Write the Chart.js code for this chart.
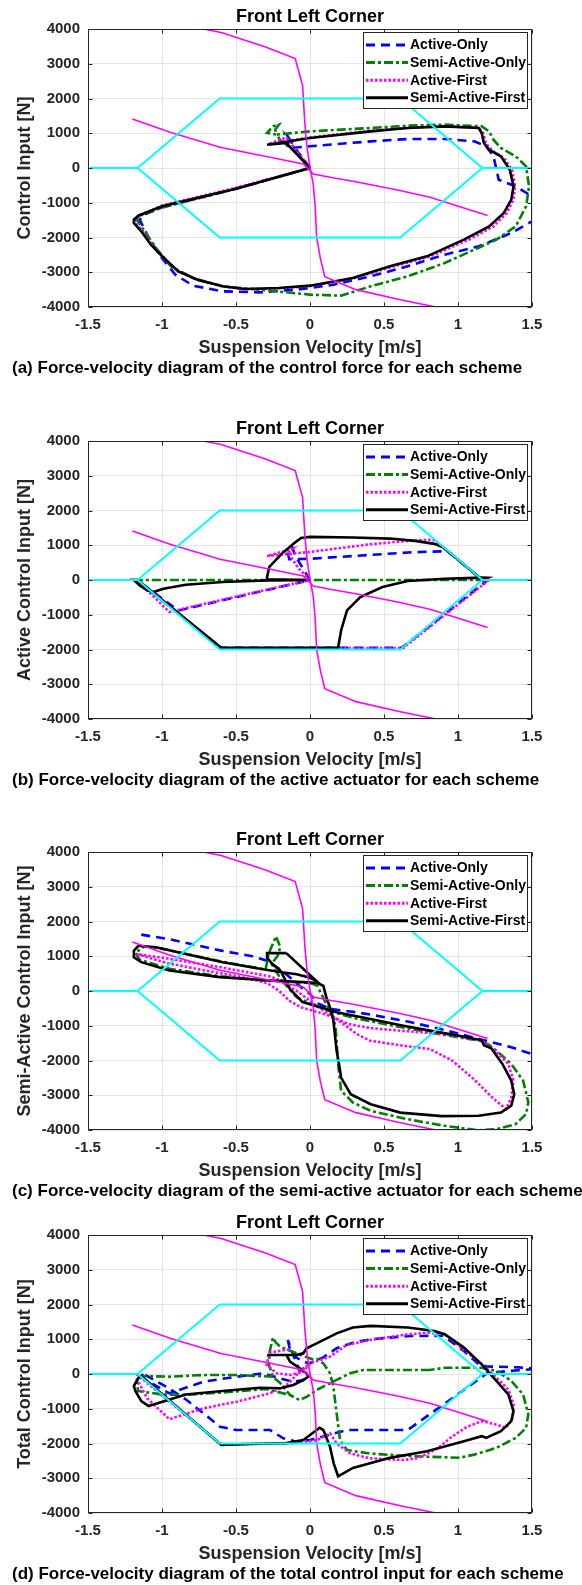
<!DOCTYPE html>
<html>
<head>
<meta charset="utf-8">
<script src="https://cdn.jsdelivr.net/npm/chart.js@4.4.0/dist/chart.umd.min.js"></script>
<style>
  html, body { margin: 0; padding: 0; background: #fff; }
  body { width: 582px; height: 1585px; position: relative; overflow: hidden; font-family: "Liberation Sans", Arial, sans-serif; }
  .panel { position: absolute; left: 0; width: 582px; height: 359px; }
  .caption { position: absolute; left: 12px; font-weight: bold; font-size: 17px; line-height: 20px; color: #000; white-space: nowrap; }
</style>
</head>
<body>
<div class="panel" style="top:0px"><canvas id="chartA" width="582" height="359"></canvas></div>
<div class="caption" style="top:358px">(a) Force-velocity diagram of the control force for each scheme</div>
<div class="panel" style="top:412px"><canvas id="chartB" width="582" height="359"></canvas></div>
<div class="caption" style="top:770px">(b) Force-velocity diagram of the active actuator for each scheme</div>
<div class="panel" style="top:823px"><canvas id="chartC" width="582" height="359"></canvas></div>
<div class="caption" style="top:1181px">(c) Force-velocity diagram of the semi-active actuator for each scheme</div>
<div class="panel" style="top:1206px"><canvas id="chartD" width="582" height="359"></canvas></div>
<div class="caption" style="top:1564px">(d) Force-velocity diagram of the total control input for each scheme</div>

<script>
// axes
const xTickValues = [-1.5, -1, -0.5, 0, 0.5, 1, 1.5];
const yTickValues = [-4000, -3000, -2000, -1000, 0, 1000, 2000, 3000, 4000];
const schemeNames = ['Active-Only', 'Semi-Active-Only', 'Active-First', 'Semi-Active-First'];

// limits shared by every panel [velocity m/s, force N]; null breaks the line
const actuatorLimit = [[-1.5,0],[-1.165,0],[-0.61,2000],[0.61,2000],[1.165,0],[1.5,0],null,
  [-1.165,0],[-0.61,-2000],[0.61,-2000],[1.165,0]];
const damperHard = [[-0.72,4000],[-0.6,3900],[-0.3,3480],[-0.1,3150],[-0.05,2370],[-0.035,1300],[-0.02,590],
  [0,14],[0.022,-470],[0.035,-1100],[0.045,-2000],[0.07,-2600],[0.1,-3130],[0.31,-3500],[0.61,-3790],[0.85,-4000]];
const damperSoft = [[-1.2,1410],[-0.946,1027],[-0.608,595],[-0.27,307],[-0.045,115],[0.022,-173],[0.135,-268],
  [0.3,-390],[0.6,-640],[0.81,-844],[1.2,-1370]];

// (a) control force
const controlActiveOnly = [[0,0],[-0.08,450],[-0.15,910],[-0.12,800],[-0.16,680],[-0.14,576],[0,624],[0.41,767],
  [0.66,834],[0.91,834],[1.11,767],[1.19,624],[1.24,336],[1.275,-336],[1.39,-528],[1.5,-815],[1.58,-1100],[1.56,-1400],
  [1.5,-1535],[1.36,-1870],[1.14,-2254],[0.91,-2494],[0.66,-2830],[0.41,-3117],[0.16,-3357],[-0.09,-3500],[-0.34,-3578],
  [-0.59,-3549],[-0.79,-3386],[-0.91,-3069],[-1.01,-2542],[-1.09,-2014],[-1.15,-1490],[-1.13,-1360],[-1.0,-1130],
  [-0.5,-590],[0,0]];
const controlSemiActiveOnly = [[0,0],[-0.1,480],[-0.2,800],[-0.225,960],[-0.29,1010],[-0.25,1200],[-0.21,1250],
  [-0.235,1100],[-0.225,960],[0,1055],[0.41,1151],[0.66,1218],[0.91,1247],[1.16,1199],[1.21,1055],[1.24,815],
  [1.29,576],[1.39,336],[1.46,48],[1.48,-528],[1.46,-1103],[1.39,-1679],[1.26,-2062],[1.11,-2350],[0.91,-2734],
  [0.66,-3117],[0.41,-3405],[0.21,-3674],[0,-3645],[-0.34,-3501],[-0.59,-3405],[-0.79,-3165],[-0.94,-2830],
  [-1.04,-2302],[-1.11,-1870],[-1.17,-1487],[-1.16,-1391],[-1.0,-1140],[-0.5,-600],[0,0]];
const controlActiveFirst = [[0,0],[-0.16,880],[-0.28,690],[0,880],[0.41,1070],[0.66,1160],[0.91,1200],[1.14,1160],
  [1.17,1000],[1.19,700],[1.24,470],[1.31,290],[1.365,-50],[1.385,-520],[1.375,-900],[1.33,-1290],[1.24,-1680],
  [1.07,-2070],[0.8,-2560],[0.55,-2850],[0.29,-3180],[0,-3400],[-0.21,-3460],[-0.44,-3490],[-0.59,-3410],
  [-0.76,-3220],[-0.89,-2980],[-1.01,-2500],[-1.07,-2200],[-1.13,-1820],[-1.18,-1580],[-1.18,-1480],[-1.15,-1360],
  [-1.0,-1080],[-0.5,-570],[0,0]];
const controlSemiActiveFirst = [[0,0],[-0.16,719],[-0.29,671],[0,863],[0.41,1055],[0.66,1151],[0.91,1199],
  [1.14,1151],[1.16,1007],[1.175,719],[1.21,528],[1.29,336],[1.35,-48],[1.375,-528],[1.36,-911],[1.31,-1295],
  [1.21,-1679],[1.04,-2062],[0.79,-2542],[0.54,-2830],[0.29,-3165],[0,-3386],[-0.21,-3453],[-0.44,-3482],
  [-0.59,-3405],[-0.76,-3213],[-0.89,-2974],[-1.01,-2494],[-1.075,-2206],[-1.14,-1822],[-1.19,-1583],[-1.19,-1487],
  [-1.16,-1372],[-1.0,-1103],[-0.5,-595],[0,0]];

// (b) active actuator
const activeActiveOnly = [[0,0],[-0.1,700],[-0.12,950],[-0.15,780],[-0.14,600],[0,610],[0.4,720],[0.7,800],
  [0.93,830],[1.165,0],[1.19,-40],[0.62,-1950],[-0.6,-1950],[-1.165,-20],[-1.15,-60],[-0.89,-880],[0,0]];
const activeSemiActiveOnly = [[-1.19,0],[1.19,0]];
const activeActiveFirst = [[0,0],[-0.08,350],[-0.15,800],[-0.12,900],[-0.29,692],[0,808],[0.41,1029],[0.66,1125],
  [0.83,1163],[0.88,1000],[1.165,0],[1.2,-30],[0.63,-1955],[-0.6,-1955],[-1.165,-10],[-1.19,0],[-1.1,-300],
  [-0.95,-920],[-0.5,-480],[0,0]];
const activeSemiActiveFirst = [[0,0],[-0.29,19],[-0.29,87],[-0.275,375],[-0.19,760],[-0.11,1048],[-0.06,1211],
  [0,1240],[0.29,1221],[0.54,1192],[0.71,1125],[0.84,1040],[0.9,940],[1.165,0],[1.2,60],[1.16,67],[0.91,38],
  [0.66,-29],[0.49,-202],[0.34,-490],[0.25,-875],[0.21,-1452],[0.19,-1952],[-0.6,-1952],[-1.165,0],[-1.19,0],
  [-1.15,-154],[-1.1,-298],[-1.06,-346],[-0.99,-250],[-0.84,-135],[-0.59,-58],[-0.29,-10],[0,0]];

// (c) semi-active actuator
const semiActiveOnly = [[-1.14,1623],[-0.925,1469],[-0.6,1162],[-0.39,999],[-0.29,874],[-0.19,586],[-0.11,298],
  [-0.06,106],[0,-86],[0.06,-375],[0.14,-519],[0.29,-600],[0.41,-680],[0.66,-880],[0.91,-1120],[1.16,-1400],
  [1.36,-1620],[1.5,-1815]];
const semiSemiActiveOnly = [[-0.19,300],[-0.09,-180],[0.01,-375],[0.1,-540],[0.3,-780],[0.6,-1030],[0.9,-1260],
  [1.16,-1440],[1.21,-1550],[1.26,-1720],[1.36,-2100],[1.44,-2580],[1.475,-3200],[1.46,-3540],[1.39,-3830],
  [1.26,-3975],[1.14,-4010],[0.91,-3880],[0.66,-3690],[0.41,-3450],[0.29,-3210],[0.21,-2870],[0.19,-2100],
  [0.175,-1150],[0.16,-760],[0.11,-380],[0.05,150],[0,230],[-0.3,300],[-0.6,420],[-0.95,640],[-1.15,900],
  [-1.18,1100],[-1.12,1280],[-1.0,1220],[-0.6,850],[-0.3,620],[-0.28,1066],[-0.23,1575],[-0.2,1260],[-0.22,1000],
  [-0.26,780],[-0.19,300]];
const semiActiveFirst = [[-1.17,1060],[-0.96,800],[-0.71,590],[-0.46,400],[-0.29,230],[-0.21,10],[-0.14,-280],
  [-0.06,-470],[0.06,-615],[0.16,-760],[0.225,-947],[0.315,-1236],[0.405,-1430],[0.63,-1574],[0.81,-1670],
  [0.96,-2000],[1.11,-2550],[1.24,-3100],[1.325,-3400],[1.36,-3060],[1.375,-2580],[1.34,-2100],[1.24,-1670],
  [1.16,-1430],[0.91,-1240],[0.66,-1160],[0.41,-1070],[0.26,-950],[0.16,-760],[0.06,-470],[0,-280],[-0.09,0],
  [-0.2,300],[-0.27,420],[-0.6,680],[-1.0,960],[-1.17,1060]];
const semiSemiActiveFirst = [[-0.16,1090],[-0.29,1090],[-0.29,950],[-0.25,760],[-0.2,590],[-0.135,50],[-0.05,-320],
  [0.07,-470],[0.18,-610],[0.4,-800],[0.63,-1000],[0.81,-1140],[1.0,-1280],[1.16,-1420],[1.175,-1560],
  [1.225,-1650],[1.3,-2100],[1.36,-2580],[1.38,-2970],[1.36,-3300],[1.29,-3500],[1.14,-3590],[0.89,-3600],
  [0.61,-3500],[0.41,-3260],[0.275,-2970],[0.21,-2490],[0.2,-2200],[0.18,-1720],[0.158,-850],[0.135,-470],
  [0.11,-180],[0.09,150],[0.05,230],[-0.045,255],[-0.27,300],[-0.61,400],[-0.95,590],[-1.14,830],[-1.19,970],
  [-1.19,1160],[-1.16,1300],[-1.04,1260],[-0.84,1066],[-0.59,830],[-0.34,640],[-0.19,540],[-0.09,480],[0,380],
  [0.04,300],[-0.16,1090]];

// (d) total control input
const totalActiveOnly = [[-0.15,980],[-0.135,690],[-0.1,500],[-0.045,350],[0,310],[0.09,480],[0.18,740],
  [0.29,900],[0.41,1000],[0.66,1090],[0.9,1100],[1.04,660],[1.14,280],[1.19,220],[1.41,190],[1.55,150],[1.41,110],
  [1.2,30],[0.66,-1612],[0.25,-1612],[0,-1900],[-0.09,-1950],[-0.18,-1850],[-0.27,-1612],[-0.5,-1612],
  [-0.608,-1516],[-0.7,-1200],[-0.833,-748],[-0.95,-420],[-1.14,40],[-1.12,-150],[-0.95,-556],[-0.72,-222],
  [-0.495,-78],[-0.315,20],[-0.203,-124],[-0.113,-222],[-0.045,-173],[-0.1,400],[-0.15,980]];
const totalSemiActiveOnly = [[0.81,115],[0.36,115],[0.27,20],[0.18,-170],[0.045,-460],[-0.02,-650],[-0.07,-750],
  [-0.135,-604],[-0.2,-270],[-0.25,-77],[-0.28,300],[-0.27,690],[-0.25,1050],[-0.23,900],[-0.2,780],[-0.07,560],
  [0.02,420],[0.05,430],[0.09,307],[0.135,20],[0.158,-364],[0.18,-1131],[0.203,-1900],[0.25,-2190],[0.41,-2290],
  [0.66,-2360],[1.01,-2410],[1.11,-2320],[1.26,-2125],[1.39,-1840],[1.46,-1550],[1.475,-1160],[1.44,-590],
  [1.36,-200],[1.26,90],[1.16,180],[0.91,180],[0.81,115],null,
  [-0.25,-77],[-0.495,-29],[-0.72,-29],[-0.946,-77],[-1.14,-60],[-1.17,-300],[-1.16,-490],[-1.0,-590],
  [-0.84,-600],[-0.55,-520],[-0.3,-430],[-0.135,-604]];
const totalActiveFirst = [[-0.14,710],[-0.275,615],[-0.293,259],[-0.225,20],[-0.135,-29],[-0.045,67],[0,307],
  [0.068,403],[0.135,499],[0.248,835],[0.405,979],[0.63,1122],[0.79,1190],[0.91,1144],[1.04,700],[1.16,280],
  [1.26,-106],[1.34,-442],[1.375,-875],[1.37,-1260],[1.325,-1548],[1.24,-1430],[1.16,-1360],[1.06,-1520],
  [0.96,-1800],[0.86,-2150],[0.73,-2420],[0.63,-2475],[0.405,-2427],[0.27,-2283],[0.18,-1995],[0.135,-1707],
  [0.05,-1900],[-0.1,-1990],[-0.6,-2030],[-1.165,-30],[-1.17,-150],[-1.1,-700],[-0.95,-1300],[-0.72,-988],
  [-0.495,-796],[-0.27,-556],[-0.158,-316],[-0.09,-29],[-0.045,163],[0,307]];
const totalSemiActiveFirst = [[-0.29,547],[-0.16,547],[-0.09,550],[-0.045,595],[-0.023,740],[0.045,883],
  [0.18,1170],[0.29,1336],[0.41,1384],[0.66,1336],[0.84,1240],[0.91,1144],[1.04,760],[1.16,279],[1.24,-106],
  [1.34,-587],[1.375,-1067],[1.36,-1356],[1.29,-1644],[1.19,-1837],[1.16,-1788],[1.04,-1933],[0.79,-2221],
  [0.54,-2413],[0.29,-2702],[0.21,-2894],[0.19,-2942],[0.16,-2570],[0.135,-2090],[0.09,-1612],[0.065,-1550],
  [0.045,-1612],[-0.045,-1900],[-0.16,-1990],[-0.3,-2000],[-0.6,-2040],[-1.14,-60],[-1.16,-115],[-1.19,-346],
  [-1.18,-490],[-1.14,-779],[-1.09,-923],[-0.84,-590],[-0.59,-490],[-0.34,-394],[-0.2,-412],[-0.113,-316],
  [-0.045,-173],[-0.011,-77],[-0.023,20],[-0.068,163],[-0.135,354],[-0.16,547]];

const FONT = '"Liberation Sans", Arial, sans-serif';
const schemeColors = ['#0000ff', '#008000', '#ff00ff', '#000000'];
const schemeDash = [[9, 6], [9, 3, 3, 3], [2.5, 2], []];

function toXY(points) {
  return points.map((p, i) => p ? { x: p[0], y: p[1] } : { x: points[i - 1][0], y: null });
}

// box round the axes, inward ticks, and the legend in the upper right corner
const axesBox = {
  id: 'axesBox',
  afterDatasetsDraw(chart) {
    const { ctx, chartArea: a, scales: { x, y } } = chart;
    const L = Math.round(a.left) + 0.5, R = Math.round(a.right) - 0.5;
    const T = Math.round(a.top) + 0.5, B = Math.round(a.bottom) - 0.5;
    ctx.save();
    ctx.strokeStyle = '#262626';
    ctx.lineWidth = 1;
    ctx.strokeRect(L, T, R - L, B - T);
    ctx.beginPath();
    xTickValues.forEach(v => {
      const px = Math.round(x.getPixelForValue(v)) + 0.5;
      ctx.moveTo(px, B); ctx.lineTo(px, B - 4);
      ctx.moveTo(px, T); ctx.lineTo(px, T + 4);
    });
    yTickValues.forEach(v => {
      const py = Math.round(y.getPixelForValue(v)) + 0.5;
      ctx.moveTo(L, py); ctx.lineTo(L + 4, py);
      ctx.moveTo(R, py); ctx.lineTo(R - 4, py);
    });
    ctx.stroke();

    const lw = 164, lh = 76;
    const lx = Math.round(a.right) - 169, ly = Math.round(a.top) + 3;
    ctx.fillStyle = '#fff';
    ctx.fillRect(lx, ly, lw, lh);
    ctx.strokeStyle = '#262626';
    ctx.strokeRect(lx + 0.5, ly + 0.5, lw, lh);
    ctx.font = 'bold 14px ' + FONT;
    ctx.textBaseline = 'middle';
    schemeNames.forEach((name, i) => {
      const yy = ly + 13 + i * 17.6;
      ctx.setLineDash(schemeDash[i]);
      ctx.strokeStyle = schemeColors[i];
      ctx.lineWidth = 3;
      ctx.beginPath();
      ctx.moveTo(lx + 3, yy);
      ctx.lineTo(lx + 45, yy);
      ctx.stroke();
      ctx.setLineDash([]);
      ctx.fillStyle = '#000';
      ctx.fillText(name, lx + 47, yy + 0.5);
    });
    ctx.restore();
  }
};

function makeChart(id, yTitle, schemes) {
  const datasets = [
    { data: toXY(actuatorLimit), borderColor: '#00ffff', borderWidth: 2, order: 0 },
    { data: toXY(damperHard), borderColor: '#ff00ff', borderWidth: 1.6, order: 1 },
    { data: toXY(damperSoft), borderColor: '#ff00ff', borderWidth: 1.6, order: 1 }
  ];
  schemes.forEach((pts, i) => {
    datasets.push({
      label: schemeNames[i],
      data: toXY(pts),
      borderColor: schemeColors[i],
      borderDash: schemeDash[i],
      borderWidth: 2.6,
      order: 5 - i
    });
  });
  datasets.forEach(d => {
    d.showLine = true;
    d.pointRadius = 0;
    d.tension = 0;
    d.spanGaps = false;
    d.clip = 0;
  });

  const tickFont = { family: FONT, size: 15, weight: 'bold' };
  const titleFont = { family: FONT, size: 18, weight: 'bold' };

  return new Chart(document.getElementById(id), {
    type: 'scatter',
    data: { datasets },
    options: {
      responsive: false,
      animation: false,
      devicePixelRatio: 1,
      layout: { padding: { left: 0, right: 50, top: 0, bottom: 0 } },
      plugins: {
        legend: { display: false },
        tooltip: { enabled: false },
        title: {
          display: true,
          fullSize: false,
          text: 'Front Left Corner',
          color: '#000',
          font: titleFont,
          padding: { top: 6, bottom: 1.4 }
        }
      },
      scales: {
        x: {
          type: 'linear',
          min: -1.5,
          max: 1.5,
          afterBuildTicks: s => { s.ticks = xTickValues.map(v => ({ value: v })); },
          afterFit: s => { s.height = 52; },
          ticks: {
            autoSkip: false,
            maxRotation: 0,
            padding: 9,
            color: '#262626',
            font: tickFont,
            callback: v => String(v)
          },
          grid: { color: '#e4e4e4', lineWidth: 1, drawTicks: false },
          border: { display: false },
          title: {
            display: true,
            text: 'Suspension Velocity [m/s]',
            color: '#262626',
            font: titleFont,
            padding: { top: 0, bottom: 0 }
          }
        },
        y: {
          type: 'linear',
          min: -4000,
          max: 4000,
          afterBuildTicks: s => { s.ticks = yTickValues.map(v => ({ value: v })); },
          afterFit: s => { s.width = 88; },
          ticks: {
            autoSkip: false,
            padding: 8,
            color: '#262626',
            font: tickFont,
            callback: v => String(v)
          },
          grid: { color: '#e4e4e4', lineWidth: 1, drawTicks: false },
          border: { display: false },
          title: {
            display: true,
            text: yTitle,
            color: '#262626',
            font: titleFont,
            padding: { top: 14, bottom: 0 }
          }
        }
      }
    },
    plugins: [axesBox]
  });
}

makeChart('chartA', 'Control Input [N]',
  [controlActiveOnly, controlSemiActiveOnly, controlActiveFirst, controlSemiActiveFirst]);
makeChart('chartB', 'Active Control Input [N]',
  [activeActiveOnly, activeSemiActiveOnly, activeActiveFirst, activeSemiActiveFirst]);
makeChart('chartC', 'Semi-Active Control Input [N]',
  [semiActiveOnly, semiSemiActiveOnly, semiActiveFirst, semiSemiActiveFirst]);
makeChart('chartD', 'Total Control Input [N]',
  [totalActiveOnly, totalSemiActiveOnly, totalActiveFirst, totalSemiActiveFirst]);
</script>
</body>
</html>
